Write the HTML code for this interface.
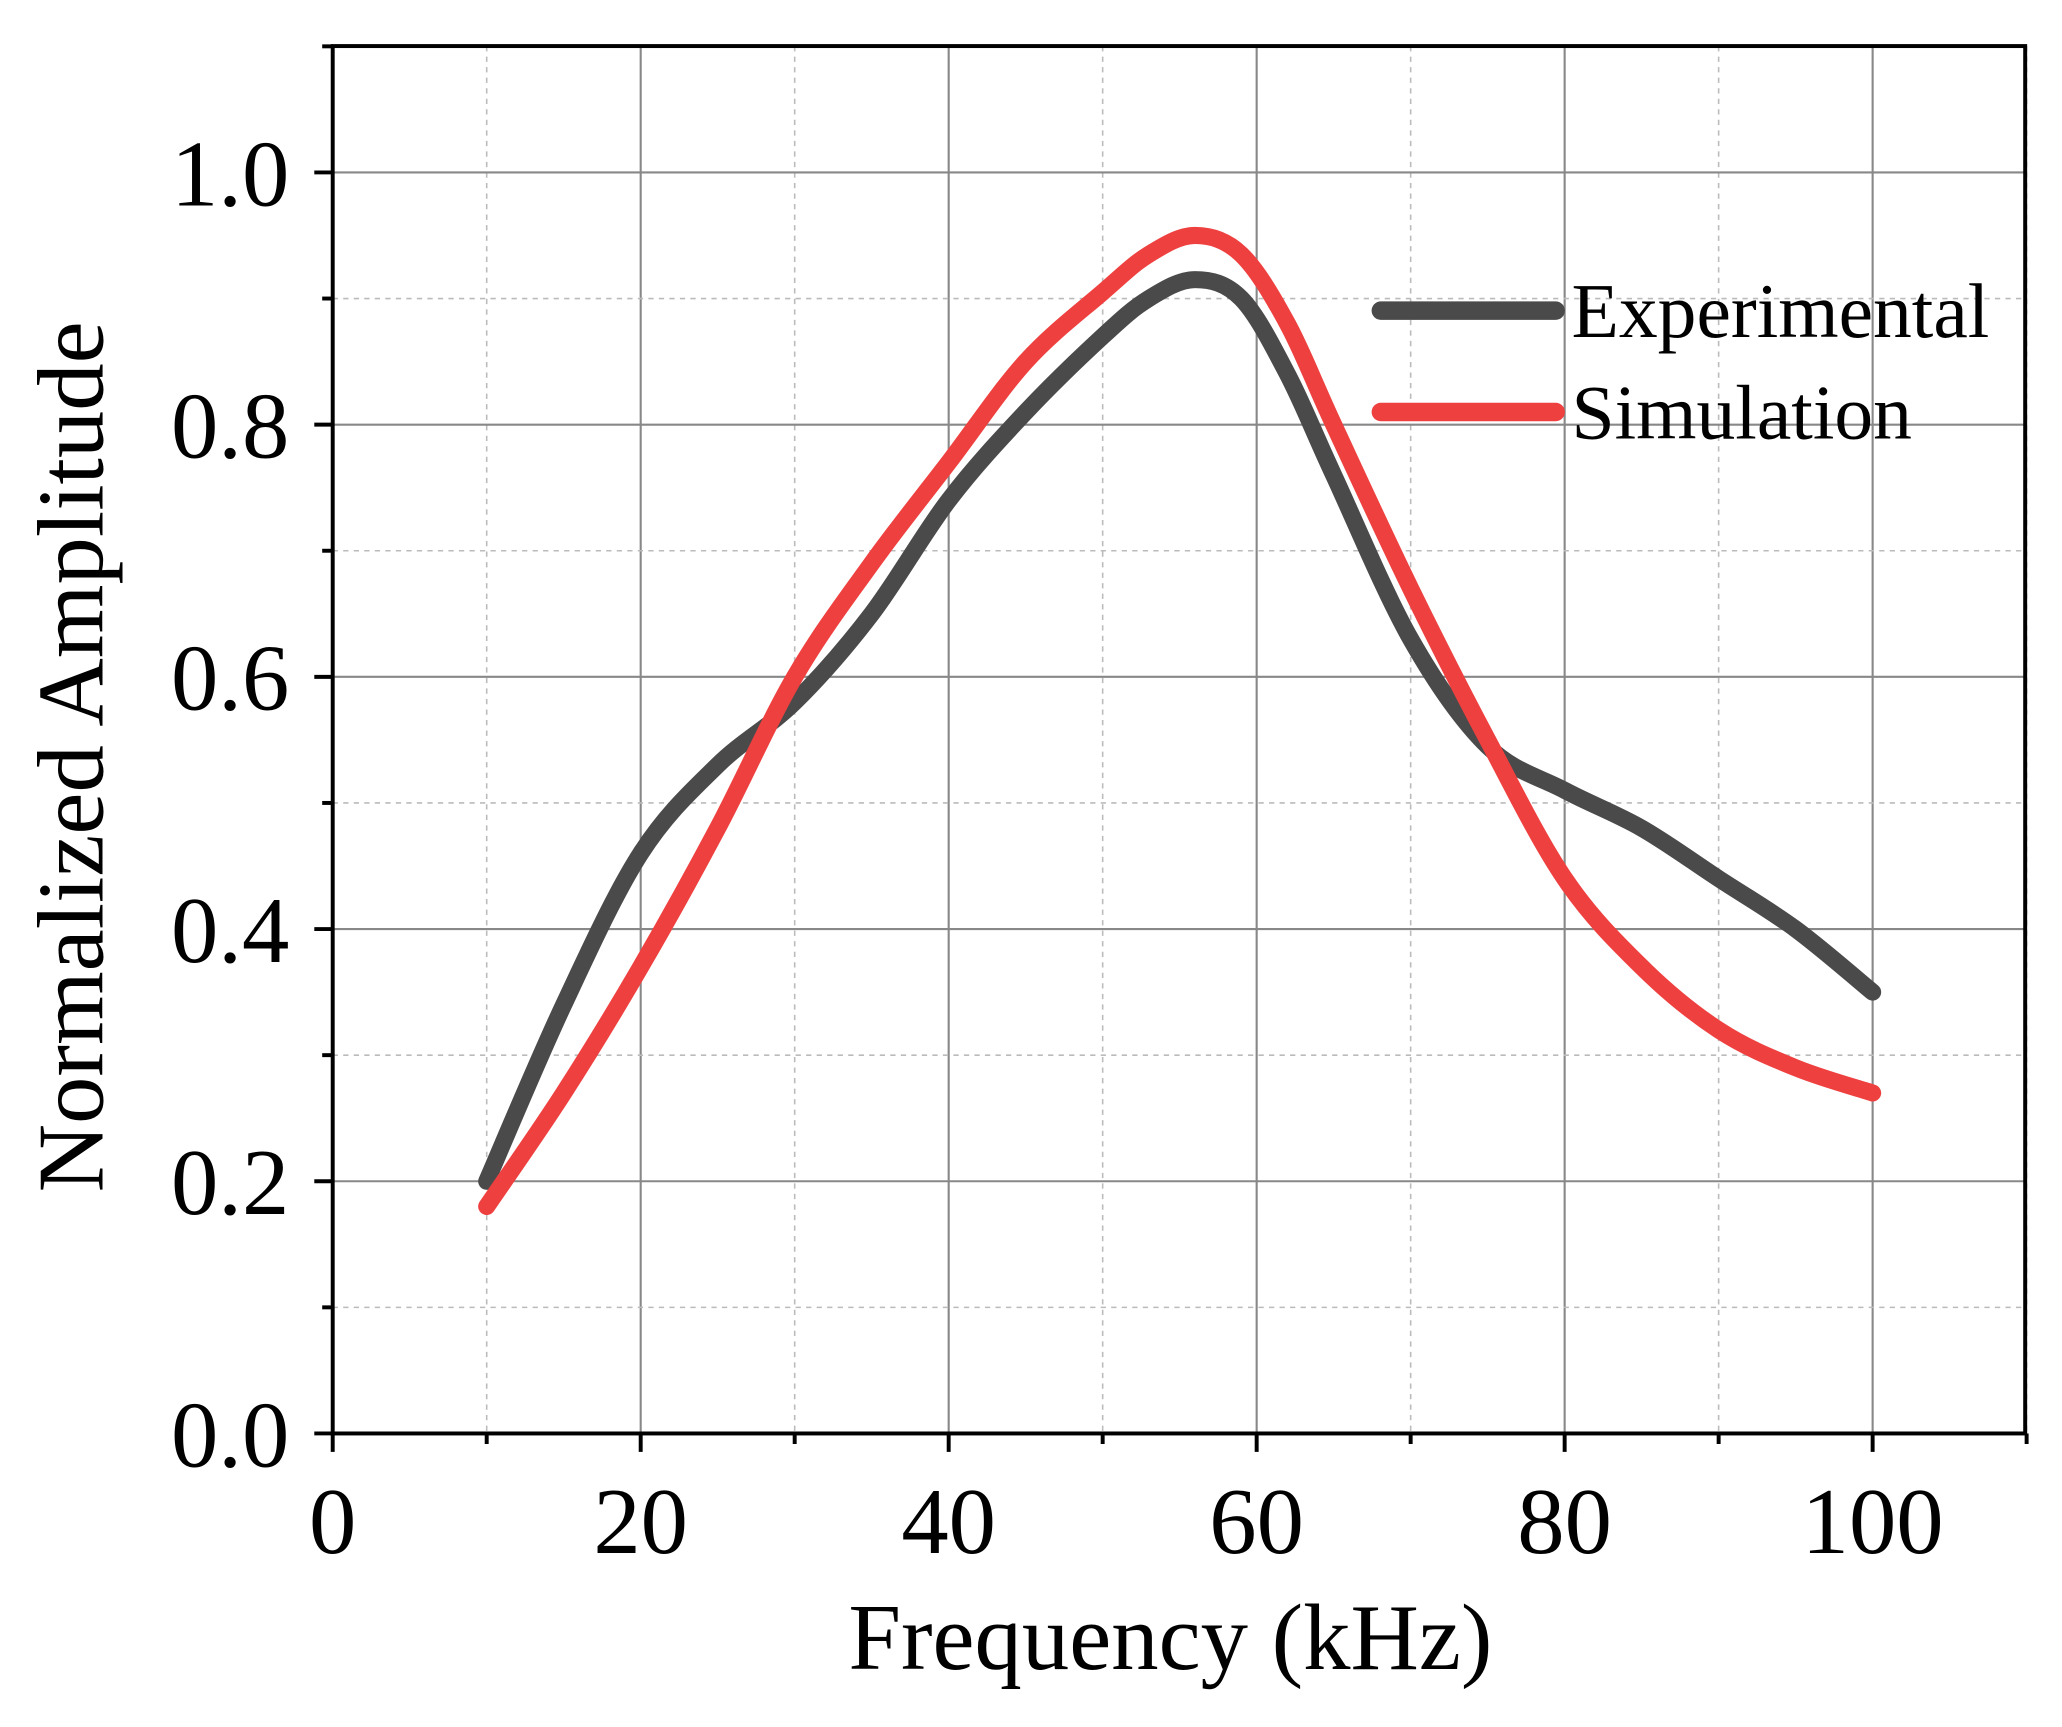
<!DOCTYPE html>
<html><head><meta charset="utf-8"><style>
html,body{margin:0;padding:0;background:#fff}
svg{display:block}
text{font-family:"Liberation Serif",serif;fill:#000}
</style></head><body>
<svg id="chart" width="2062" height="1727" viewBox="0 0 1568 1312" preserveAspectRatio="none" xmlns="http://www.w3.org/2000/svg">
<g id="grid"></g>
<g id="series"></g>
<g id="axes"></g>
<g id="legend"></g>
</svg>
<script>
const xTicks=[0,20,40,60,80,100];
const yTicks=[0.0,0.2,0.4,0.6,0.8,1.0];
const yTickLabels=["0.0","0.2","0.4","0.6","0.8","1.0"];
const expX=[10,15,20,25,30,35,40,45,50,53,56,59,62,65,70,75,80,85,90,95,100];
const expY=[0.2,0.34,0.46,0.53,0.58,0.65,0.74,0.81,0.87,0.90,0.915,0.90,0.84,0.76,0.63,0.545,0.51,0.48,0.44,0.40,0.35];
const simX=[10,15,20,25,30,35,40,45,50,53,56,59,62,65,70,75,80,85,90,95,100];
const simY=[0.18,0.27,0.37,0.48,0.60,0.69,0.77,0.85,0.905,0.935,0.95,0.935,0.88,0.80,0.67,0.55,0.44,0.37,0.32,0.29,0.27];
const L=253,R=1540,T=35,B=1089;
const sx=v=>L+v*11.71;
const sy=v=>B-v*958;
const NS="http://www.w3.org/2000/svg";
function mk(tag,attrs,parent){const e=document.createElementNS(NS,tag);for(const k in attrs)e.setAttribute(k,attrs[k]);parent.appendChild(e);return e;}
const grid=document.getElementById('grid'),axes=document.getElementById('axes'),series=document.getElementById('series'),legend=document.getElementById('legend');
for(let v=10;v<=110;v+=10){const x=sx(v);const major=v%20===0;
 const g=mk('line',{x1:x,x2:x,y1:T,y2:B,stroke:major?'#888':'#bbb','stroke-width':major?1.6:1.2,'stroke-dasharray':major?'':'4 4'},grid);
 }
for(let i=1;i<=11;i++){const v=i/10;const y=sy(v);const major=i%2===0;
 const g=mk('line',{x1:L,x2:R,y1:y,y2:y,stroke:major?'#888':'#bbb','stroke-width':major?1.6:1.2,'stroke-dasharray':major?'':'4 4'},grid);
 }
const fr=mk('rect',{x:L,y:T,width:R-L,height:B-T,fill:'none',stroke:'#000','stroke-width':3},axes);

for(let v=0;v<=110;v+=10){const x=sx(v);const major=v%20===0;
 const t=mk('line',{x1:x,x2:x,y1:B,y2:B+(major?14:8),stroke:'#000','stroke-width':3},axes);
 }
xTicks.forEach(v=>{const t=mk('text',{x:sx(v),y:1180,'font-size':72,'text-anchor':'middle'},axes);t.textContent=String(v);
 });
for(let i=0;i<=11;i++){const y=sy(i/10);const major=i%2===0;
 const t=mk('line',{x1:L,x2:L-(major?14:8),y1:y,y2:y,stroke:'#000','stroke-width':3},axes);
 }
yTicks.forEach((v,i)=>{const t=mk('text',{x:220,y:sy(v)+25,'font-size':72,'text-anchor':'end'},axes);t.textContent=yTickLabels[i];
 });
const xt=mk('text',{x:890,y:1268,'font-size':72,'text-anchor':'middle'},axes);xt.textContent='Frequency (kHz)';

const yt=mk('text',{x:0,y:0,'font-size':72,'text-anchor':'middle',transform:'translate(78,575) rotate(-90)'},axes);yt.textContent='Normalized Amplitude';

function path(xs,ys){const p=xs.map((x,i)=>[sx(x),sy(ys[i])]);let d='M'+p[0][0]+','+p[0][1];
 for(let i=0;i<p.length-1;i++){const p0=p[Math.max(i-1,0)],p1=p[i],p2=p[i+1],p3=p[Math.min(i+2,p.length-1)];
  d+=' C'+(p1[0]+(p2[0]-p0[0])/6)+','+(p1[1]+(p2[1]-p0[1])/6)+' '+(p2[0]-(p3[0]-p1[0])/6)+','+(p2[1]-(p3[1]-p1[1])/6)+' '+p2[0]+','+p2[1];}
 return d;}
const e=mk('path',{d:path(expX,expY),fill:'none',stroke:'#4a4a4a','stroke-width':13,'stroke-linecap':'round','stroke-linejoin':'round'},series);

const s=mk('path',{d:path(simX,simY),fill:'none',stroke:'#ef4040','stroke-width':13,'stroke-linecap':'round','stroke-linejoin':'round'},series);

[['Experimental','#4a4a4a',236],['Simulation','#ef4040',313]].forEach(([n,c,y])=>{
 const l=mk('line',{x1:1050,x2:1183,y1:y,y2:y,stroke:c,'stroke-width':14,'stroke-linecap':'round'},legend);
 
 const t=mk('text',{x:1195,y:y+20,'font-size':59},legend);t.textContent=n;
 });
</script>
</body></html>
